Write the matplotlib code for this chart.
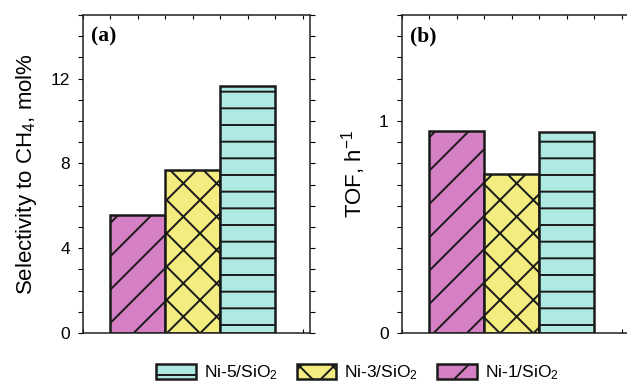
import matplotlib
matplotlib.use("Agg")
import matplotlib.pyplot as plt
import matplotlib.ticker as ticker
from matplotlib.patches import Patch

# -- data
catalysts = ["Ni-1/SiO$_2$", "Ni-3/SiO$_2$", "Ni-5/SiO$_2$"]
selectivity_ch4 = [5.55, 7.67, 11.67]   # mol%
tof = [0.954, 0.748, 0.946]             # h^-1
colors = ["#D580C5", "#F3EC80", "#AEE9E3"]
hatches = ["/", "x", "-"]

plt.rcParams["font.family"] = ["Liberation Sans", "DejaVu Sans"]
plt.rcParams["mathtext.fontset"] = "custom"
plt.rcParams["mathtext.rm"] = "Liberation Sans"
plt.rcParams["mathtext.it"] = "Liberation Sans:italic"
plt.rcParams["hatch.linewidth"] = 1.4

fig = plt.figure(figsize=(6.27, 3.84), dpi=100)
ax_a = fig.add_axes([83 / 627, 1 - 333 / 384, 227 / 627, 318 / 384])
ax_b = fig.add_axes([402 / 627, 1 - 333 / 384, 227 / 627, 318 / 384])


def draw_panel(ax, values, ylim, major, minor, ylabel, tag, right_spine=True):
    x = range(len(values))
    for xi, val, c, h in zip(x, values, colors, hatches):
        ax.bar(xi, val, width=1.0, color=c, edgecolor="#1a1a1a",
               linewidth=1.8, hatch=h, zorder=2)
    ax.set_xlim(-1, 3.13)
    ax.set_ylim(*ylim)
    ax.yaxis.set_major_locator(ticker.MultipleLocator(major))
    ax.yaxis.set_minor_locator(ticker.MultipleLocator(minor))
    ax.yaxis.set_major_formatter(ticker.FuncFormatter(lambda v, _: "{:g}".format(v)))
    ax.xaxis.set_major_locator(ticker.MultipleLocator(1))
    ax.xaxis.set_minor_locator(ticker.MultipleLocator(0.5))
    ax.tick_params(axis="x", which="both", direction="in", length=3, width=0.8,
                   top=True, labelbottom=False)
    ax.tick_params(axis="y", which="both", direction="out", length=3.5, width=0.8,
                   right=right_spine, labelsize=12.5, pad=6)
    for s in ax.spines.values():
        s.set_linewidth(1.1)
        s.set_color("#222222")
    if not right_spine:
        ax.spines["right"].set_visible(False)
    ax.set_ylabel(ylabel, fontsize=16, labelpad=8)
    ax.text(0.035, 0.965, tag, transform=ax.transAxes, ha="left", va="top",
            fontsize=15.5, fontweight="bold", family="Liberation Serif")


draw_panel(ax_a, selectivity_ch4, (0, 15), 4, 1,
           "Selectivity to CH$_4$, mol%", "(a)")
draw_panel(ax_b, tof, (0, 1.5), 1, 0.1, "TOF, h$^{-1}$", "(b)", right_spine=False)

# legend in reverse order, as in the original
handles = [Patch(facecolor=colors[i], edgecolor="#1a1a1a", linewidth=1.8,
                 hatch=hatches[i], label=catalysts[i]) for i in (2, 1, 0)]
fig.legend(handles=handles, loc="lower center", bbox_to_anchor=(0.57, -0.035),
           ncol=3, frameon=False, fontsize=12.5, handlelength=2.3,
           handleheight=0.95, handletextpad=0.45, columnspacing=1.1)

fig.savefig("out.png", dpi=100)
